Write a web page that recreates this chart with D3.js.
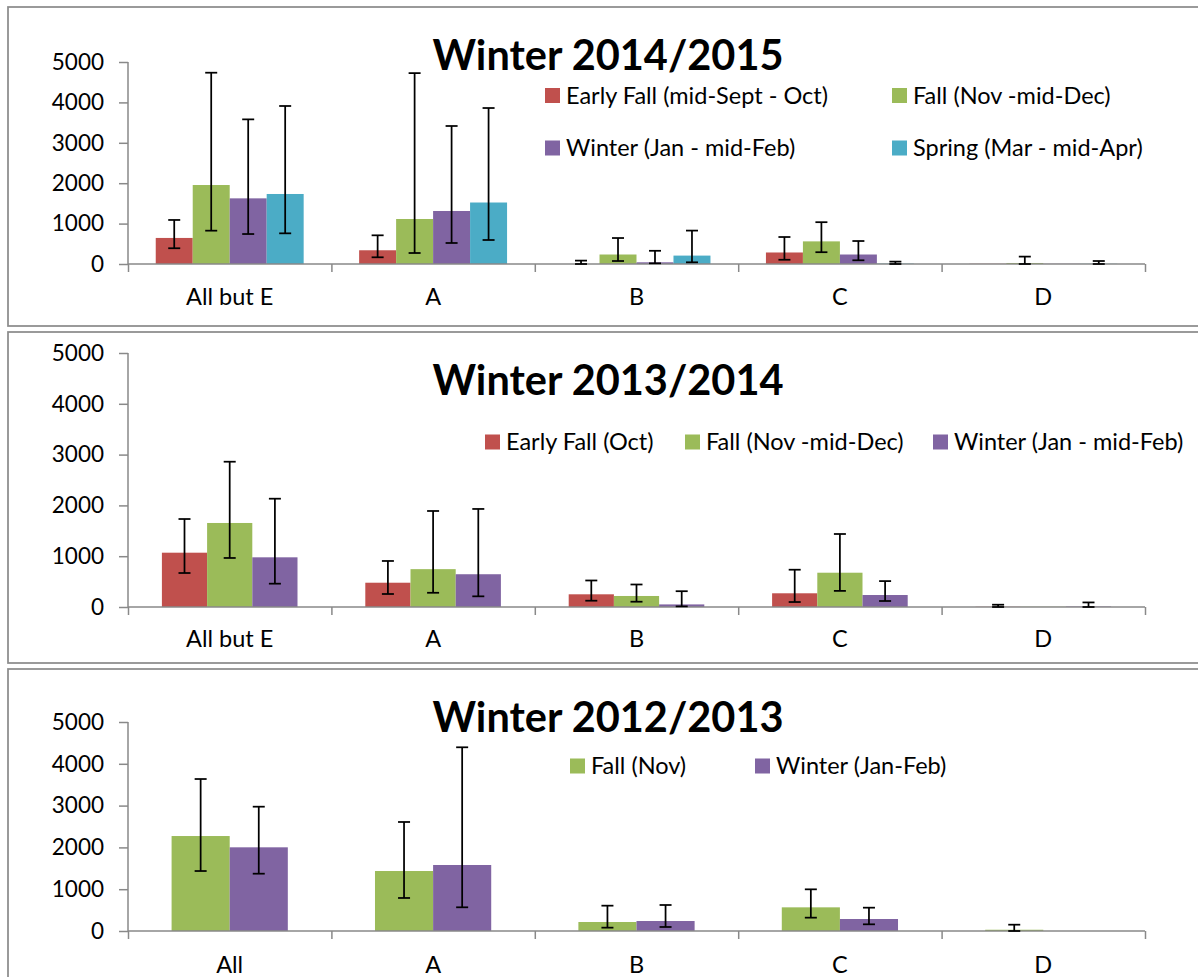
<!DOCTYPE html>
<html>
<head>
<meta charset="utf-8">
<script src="https://cdn.jsdelivr.net/npm/d3@7"></script>
<style>
  html, body { margin: 0; padding: 0; background: #fff; }
  svg { display: block; font-family: Lato, "Open Sans", sans-serif; }
</style>
</head>
<body>
<svg id="chart" width="1198" height="977"></svg>
<script>
// ---------------- DATA ----------------
const yTicks = [0, 1000, 2000, 3000, 4000, 5000];

// Winter 2014/2015
const categories2015 = ["All but E", "A", "B", "C", "D"];
const seriesNames2015 = ["Early Fall (mid-Sept - Oct)", "Fall (Nov -mid-Dec)", "Winter (Jan - mid-Feb)", "Spring (Mar - mid-Apr)"];
const earlyFall2015     = [645, 340, 0, 285, 5];
const earlyFall2015Low  = [390, 166, 0, 105, 5];
const earlyFall2015High = [1090, 710, 84, 668, 5];
const fall2015          = [1955, 1114, 235, 560, 25];
const fall2015Low       = [825, 272, 74, 292, 0];
const fall2015High      = [4735, 4725, 643, 1035, 183];
const winter2015        = [1625, 1312, 42, 235, 5];
const winter2015Low     = [742, 520, 17, 92, 5];
const winter2015High    = [3580, 3416, 327, 569, 5];
const spring2015        = [1733, 1522, 208, 10, 5];
const spring2015Low     = [759, 594, 42, 0, 0];
const spring2015High    = [3911, 3861, 827, 59, 74];

// Winter 2013/2014
const categories2014 = ["All but E", "A", "B", "C", "D"];
const seriesNames2014 = ["Early Fall (Oct)", "Fall (Nov -mid-Dec)", "Winter (Jan - mid-Feb)"];
const earlyFall2014     = [1069, 478, 250, 270, 5];
const earlyFall2014Low  = [669, 256, 124, 98, 0];
const earlyFall2014High = [1732, 906, 522, 734, 45];
const fall2014          = [1654, 745, 217, 675, 5];
const fall2014Low       = [965, 280, 104, 317, 5];
const fall2014High      = [2860, 1890, 443, 1437, 5];
const winter2014        = [978, 645, 51, 236, 10];
const winter2014Low     = [459, 210, 12, 118, 0];
const winter2014High    = [2132, 1930, 311, 510, 90];

// Winter 2012/2013
const categories2013 = ["All", "A", "B", "C", "D"];
const seriesNames2013 = ["Fall (Nov)", "Winter (Jan-Feb)"];
const fall2013          = [2272, 1435, 215, 566, 30];
const fall2013Low       = [1435, 790, 80, 319, 0];
const fall2013High      = [3636, 2608, 606, 997, 151];
const winter2013        = [2002, 1579, 239, 287, 0];
const winter2013Low     = [1371, 567, 96, 160, 0];
const winter2013High    = [2974, 4395, 622, 558, 0];

// ---------------- STYLE ----------------
const RED = "#C0504D", GREEN = "#9BBB59", PURPLE = "#8064A2", CYAN = "#4BACC6";
const AXIS = "#898989";

const panels = [
  {
    title: "Winter 2014/2015", cats: categories2015,
    series: [
      {name: seriesNames2015[0], color: RED,    v: earlyFall2015, lo: earlyFall2015Low, hi: earlyFall2015High},
      {name: seriesNames2015[1], color: GREEN,  v: fall2015,      lo: fall2015Low,      hi: fall2015High},
      {name: seriesNames2015[2], color: PURPLE, v: winter2015,    lo: winter2015Low,    hi: winter2015High},
      {name: seriesNames2015[3], color: CYAN,   v: spring2015,    lo: spring2015Low,    hi: spring2015High}
    ],
    box: [8, 7, 1300, 319], y0: 264, y1: 62, labelY: 305, titleY: 70,
    legend: [[545, 95.5], [892, 95.5], [545, 148], [892, 148]]
  },
  {
    title: "Winter 2013/2014", cats: categories2014,
    series: [
      {name: seriesNames2014[0], color: RED,    v: earlyFall2014, lo: earlyFall2014Low, hi: earlyFall2014High},
      {name: seriesNames2014[1], color: GREEN,  v: fall2014,      lo: fall2014Low,      hi: fall2014High},
      {name: seriesNames2014[2], color: PURPLE, v: winter2014,    lo: winter2014Low,    hi: winter2014High}
    ],
    box: [8, 332, 1300, 331], y0: 607, y1: 353, labelY: 647, titleY: 395,
    legend: [[485, 442], [685, 442], [933, 442]]
  },
  {
    title: "Winter 2012/2013", cats: categories2013,
    series: [
      {name: seriesNames2013[0], color: GREEN,  v: fall2013,   lo: fall2013Low,   hi: fall2013High},
      {name: seriesNames2013[1], color: PURPLE, v: winter2013, lo: winter2013Low, hi: winter2013High}
    ],
    box: [8, 669, 1300, 340], y0: 931, y1: 722, labelY: 973, titleY: 732,
    legend: [[570, 766], [755, 766]]
  }
];

const svg = d3.select("#chart");
const X0 = 128, X1 = 1145;

panels.forEach(p => {
  const g = svg.append("g");
  // panel frame
  g.append("rect")
    .attr("x", p.box[0]).attr("y", p.box[1]).attr("width", p.box[2]).attr("height", p.box[3])
    .attr("fill", "#fff").attr("stroke", "#8c8c8c").attr("stroke-width", 1.75);

  const y = d3.scaleLinear().domain([0, 5000]).range([p.y0, p.y1]);
  const x = d3.scaleBand().domain(p.cats).range([X0, X1]).padding(0);
  const n = p.series.length;
  const bw = x.bandwidth() / (n + 1.5);
  const xs = d3.scaleBand().domain(d3.range(n))
    .range([0.75 * bw, x.bandwidth() - 0.75 * bw]).padding(0);
  const xIdx = d3.scaleLinear().domain([0, p.cats.length]).range([X0, X1]);

  // bars
  p.series.forEach((s, si) => {
    g.append("g").selectAll("rect").data(p.cats).join("rect")
      .attr("x", (c) => x(c) + xs(si))
      .attr("width", xs.bandwidth())
      .attr("y", (c, i) => y(s.v[i]))
      .attr("height", (c, i) => y(0) - y(s.v[i]))
      .attr("fill", s.color);
  });

  // y axis
  const ya = g.append("g").attr("transform", `translate(${X0},0)`)
    .call(d3.axisLeft(y).tickValues(yTicks).tickSize(9).tickPadding(15).tickFormat(d3.format("d")));
  ya.selectAll("path, line").attr("stroke", AXIS).attr("stroke-width", 1.5);
  ya.select(".domain").attr("d", `M0,${p.y1}V${p.y0}`);
  ya.selectAll("text").attr("font-family", "Lato").attr("font-size", 22.5).attr("fill", "#000");

  // x axis (boundary ticks)
  const xa = g.append("g").attr("transform", `translate(0,${p.y0})`)
    .call(d3.axisBottom(xIdx).tickValues(d3.range(p.cats.length + 1)).tickSize(8).tickFormat(""));
  xa.selectAll("path, line").attr("stroke", AXIS).attr("stroke-width", 1.5);
  xa.select(".domain").attr("d", `M${X0},0H${X1}`);

  // category labels
  g.append("g").selectAll("text").data(p.cats).join("text")
    .attr("x", c => x(c) + x.bandwidth() / 2)
    .attr("y", p.labelY)
    .attr("text-anchor", "middle")
    .attr("font-size", 23.5).attr("fill", "#000")
    .text(c => c);

  // error bars
  p.series.forEach((s, si) => {
    const eg = g.append("g").attr("stroke", "#000").attr("stroke-width", 1.75).attr("fill", "none");
    p.cats.forEach((c, i) => {
      if (s.hi[i] - s.lo[i] <= 0) return;
      const cx = x(c) + xs(si) + xs.bandwidth() / 2;
      eg.append("line").attr("x1", cx).attr("x2", cx).attr("y1", y(s.lo[i])).attr("y2", y(s.hi[i]));
      eg.append("line").attr("x1", cx - 6).attr("x2", cx + 6).attr("y1", y(s.hi[i])).attr("y2", y(s.hi[i]));
      eg.append("line").attr("x1", cx - 6).attr("x2", cx + 6).attr("y1", y(s.lo[i])).attr("y2", y(s.lo[i]));
    });
  });

  // title
  g.append("text").attr("x", 608).attr("y", p.titleY)
    .attr("text-anchor", "middle").attr("font-weight", 700).attr("font-size", 41.5)
    .attr("fill", "#000").text(p.title);

  // legend
  p.series.forEach((s, si) => {
    const [lx, ly] = p.legend[si];
    g.append("rect").attr("x", lx).attr("y", ly - 7.5).attr("width", 15).attr("height", 15).attr("fill", s.color);
    g.append("text").attr("x", lx + 21).attr("y", ly).attr("dy", "0.35em")
      .attr("font-size", 23.5).attr("fill", "#000").text(s.name);
  });
});
</script>
</body>
</html>
